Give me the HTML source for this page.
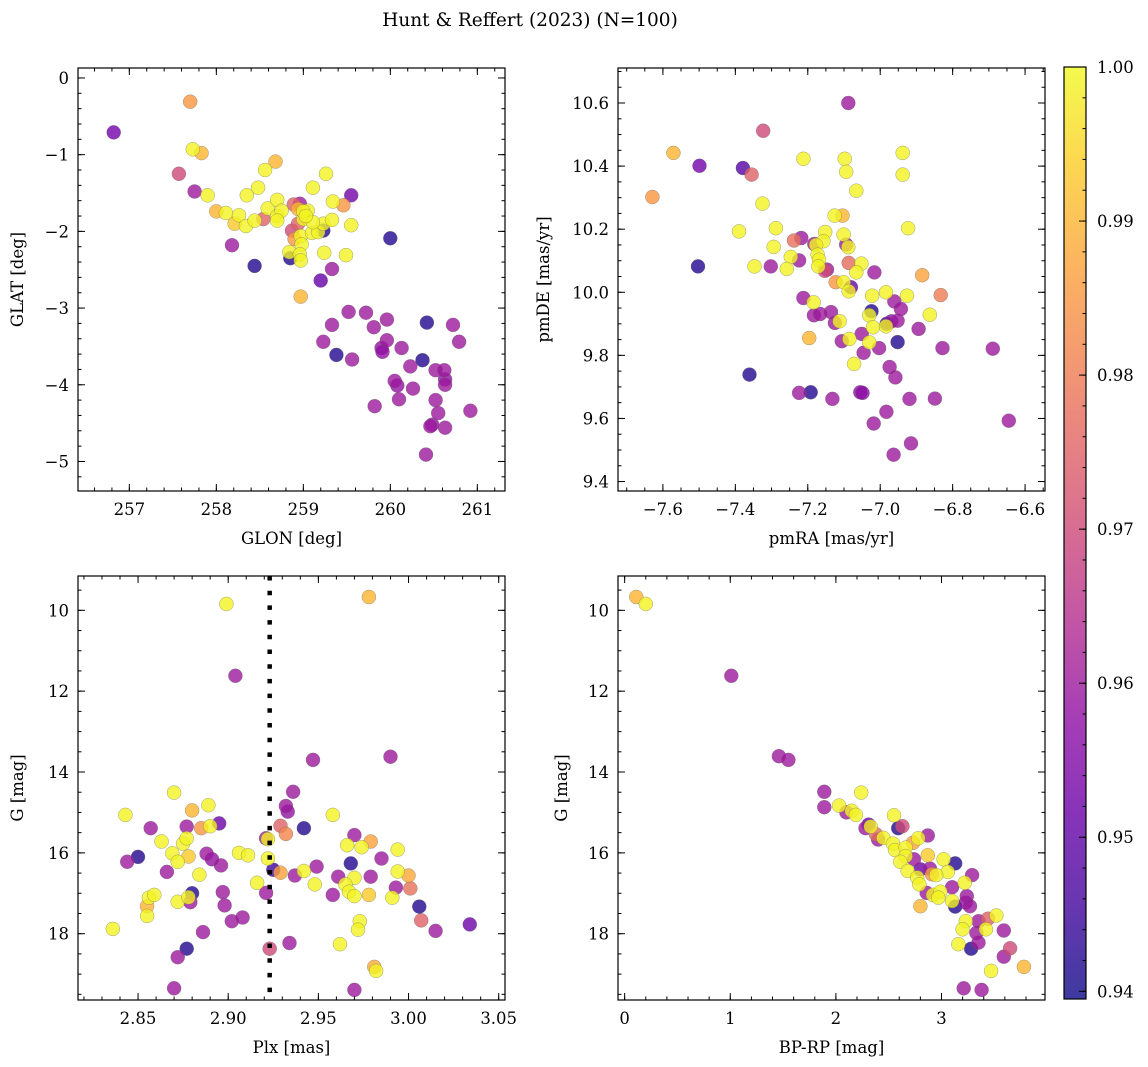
<!DOCTYPE html>
<html><head><meta charset="utf-8">
<style>
html,body{margin:0;padding:0;background:#fff;}
svg{display:block;font-family:"DejaVu Serif","Liberation Serif",serif;}
</style></head>
<body>
<svg id="fig" width="1148" height="1067" viewBox="0 0 1148 1067" xmlns="http://www.w3.org/2000/svg">
<text x="530" y="26" text-anchor="middle" font-size="18.5">Hunt &amp; Reffert (2023) (N=100)</text>
<g id="layer"></g>
</svg>
<script>
// ---- Top-left: GLON vs GLAT ----
const glon=[256.82,257.70,257.73,257.83,257.57,257.75,257.90,258.0,258.11,258.26,258.21,258.34,258.44,258.54,258.18,258.44,258.35,258.48,258.56,258.68,258.59,258.70,258.70,258.75,258.70,258.89,258.96,258.94,259.05,259.0,258.87,258.94,258.90,258.97,258.98,258.84,258.85,258.96,258.97,259.10,259.17,259.23,259.23,259.11,259.11,259.26,259.34,259.46,259.55,259.33,259.55,259.24,259.49,259.33,259.20,258.97,260.0,259.0,259.03,259.52,259.72,259.96,259.33,259.81,260.42,260.72,259.23,259.96,259.90,259.91,260.13,260.79,259.38,259.56,260.37,260.23,260.52,260.62,260.63,260.63,260.05,260.08,260.26,260.10,260.52,259.82,260.92,260.55,260.48,260.46,260.63,260.41];
const glat=[-0.71,-0.31,-0.93,-0.98,-1.25,-1.48,-1.53,-1.74,-1.76,-1.79,-1.90,-1.93,-1.86,-1.84,-2.18,-2.45,-1.53,-1.43,-1.20,-1.09,-1.70,-1.59,-1.80,-1.73,-1.86,-1.65,-1.64,-1.71,-1.73,-1.84,-1.99,-1.90,-2.10,-2.06,-2.17,-2.27,-2.35,-2.30,-2.38,-2.02,-2.01,-1.99,-1.90,-1.88,-1.43,-1.25,-1.61,-1.66,-1.53,-1.85,-1.92,-2.28,-2.31,-2.49,-2.64,-2.85,-2.09,-1.74,-1.80,-3.05,-3.06,-3.15,-3.22,-3.25,-3.19,-3.22,-3.44,-3.42,-3.52,-3.57,-3.52,-3.44,-3.61,-3.67,-3.68,-3.76,-3.81,-3.81,-3.93,-4.0,-3.95,-4.01,-4.05,-4.19,-4.20,-4.28,-4.34,-4.37,-4.52,-4.54,-4.56,-4.91];
const probTL=[0.953,0.985,0.999,0.99,0.97,0.96,0.999,0.99,0.999,0.999,0.993,0.999,0.999,0.975,0.96,0.942,0.999,0.999,0.999,0.99,0.999,0.999,0.999,0.999,0.999,0.975,0.96,0.99,0.999,0.999,0.97,0.975,0.985,0.999,0.999,0.999,0.942,0.999,0.999,0.999,0.999,0.942,0.999,0.999,0.999,0.999,0.999,0.985,0.953,0.999,0.999,0.999,0.999,0.96,0.951,0.99,0.942,0.999,0.999,0.96,0.96,0.96,0.96,0.96,0.942,0.96,0.96,0.96,0.958,0.958,0.96,0.96,0.942,0.96,0.942,0.96,0.96,0.96,0.958,0.96,0.96,0.958,0.96,0.96,0.96,0.96,0.96,0.96,0.958,0.96,0.96,0.96];
// ---- Top-right: pmRA vs pmDE ----
const pmra=[-7.088,-7.323,-7.571,-7.499,-7.379,-7.355,-7.629,-7.212,-7.098,-7.094,-6.938,-6.938,-7.066,-7.325,-7.126,-7.104,-7.39,-7.288,-6.923,-7.238,-7.218,-7.152,-7.157,-7.182,-7.177,-7.101,-7.094,-7.088,-7.294,-7.247,-7.224,-7.173,-7.169,-7.503,-7.347,-7.302,-7.258,-7.171,-7.147,-7.153,-7.087,-7.052,-7.066,-7.016,-7.123,-7.101,-7.081,-7.087,-7.022,-6.984,-6.926,-6.884,-6.833,-7.212,-7.184,-7.183,-7.166,-7.136,-7.125,-7.112,-6.961,-6.943,-7.024,-7.030,-6.863,-6.982,-6.969,-6.952,-7.020,-6.984,-6.894,-7.196,-7.106,-7.085,-7.051,-7.030,-7.003,-6.952,-7.046,-6.828,-6.689,-7.072,-7.361,-6.974,-6.958,-7.224,-7.192,-7.132,-7.055,-7.049,-6.919,-6.849,-6.983,-7.018,-6.645,-6.915,-6.963];
const pmde=[10.60,10.512,10.442,10.401,10.394,10.373,10.302,10.423,10.423,10.382,10.442,10.373,10.322,10.281,10.243,10.243,10.193,10.203,10.203,10.164,10.172,10.191,10.162,10.153,10.150,10.183,10.151,10.143,10.144,10.112,10.101,10.119,10.103,10.082,10.082,10.082,10.074,10.082,10.072,10.068,10.093,10.091,10.063,10.063,10.032,10.032,10.016,10.003,9.989,10.0,9.989,10.054,9.991,9.982,9.968,9.927,9.931,9.937,9.903,9.908,9.971,9.947,9.940,9.927,9.929,9.900,9.908,9.910,9.889,9.892,9.884,9.855,9.845,9.852,9.868,9.841,9.823,9.842,9.808,9.823,9.821,9.773,9.739,9.763,9.730,9.681,9.683,9.662,9.683,9.681,9.662,9.663,9.621,9.584,9.593,9.521,9.485];
const probTR=[0.96,0.97,0.99,0.953,0.948,0.975,0.985,0.999,0.999,0.999,0.999,0.999,0.999,0.999,0.999,0.99,0.999,0.999,0.999,0.978,0.96,0.999,0.999,0.96,0.999,0.999,0.96,0.999,0.999,0.999,0.96,0.999,0.999,0.942,0.999,0.96,0.999,0.999,0.96,0.97,0.977,0.999,0.999,0.96,0.985,0.999,0.952,0.999,0.999,0.999,0.999,0.987,0.98,0.96,0.999,0.96,0.96,0.96,0.96,0.999,0.96,0.96,0.942,0.999,0.999,0.945,0.957,0.96,0.999,0.999,0.96,0.99,0.96,0.999,0.96,0.999,0.96,0.942,0.96,0.96,0.96,0.999,0.942,0.96,0.96,0.96,0.942,0.96,0.957,0.957,0.96,0.96,0.96,0.96,0.96,0.96,0.96];
// ---- Bottom-left: Plx vs G ----
const plx=[2.899,2.978,2.904,2.947,2.990,2.870,2.936,2.843,2.880,2.889,2.958,2.932,2.933,2.857,2.877,2.885,2.890,2.895,2.929,2.932,2.942,2.863,2.875,2.877,2.921,2.922,2.970,2.966,2.974,2.979,2.994,2.869,2.878,2.872,2.888,2.891,2.906,2.911,2.922,2.844,2.850,2.896,2.866,2.884,2.925,2.929,2.937,2.942,2.949,2.968,2.985,2.994,3.000,2.961,2.970,2.979,2.916,2.948,2.965,2.993,3.001,2.921,2.897,2.958,2.967,2.970,2.978,2.991,3.006,2.856,2.859,2.855,2.880,2.879,2.872,2.878,2.898,2.855,2.902,2.908,3.007,2.836,2.886,2.973,2.972,3.015,3.034,2.877,2.872,2.923,2.934,2.962,2.981,2.982,2.870,2.970];
const gBL=[9.84,9.67,11.62,13.70,13.62,14.51,14.49,15.06,14.95,14.82,15.06,14.84,14.98,15.39,15.35,15.39,15.34,15.27,15.33,15.53,15.39,15.72,15.77,15.64,15.64,15.66,15.56,15.81,15.86,15.72,15.92,16.01,16.09,16.22,16.02,16.16,16.0,16.06,16.14,16.22,16.10,16.31,16.47,16.54,16.42,16.49,16.56,16.45,16.34,16.26,16.14,16.46,16.56,16.59,16.62,16.59,16.74,16.78,16.78,16.86,16.88,16.99,16.97,17.04,16.96,17.07,17.04,17.11,17.33,17.11,17.04,17.32,17.00,17.22,17.21,17.10,17.30,17.56,17.69,17.60,17.67,17.88,17.96,17.69,17.90,17.93,17.77,18.37,18.58,18.37,18.23,18.26,18.82,18.92,19.35,19.39];
const probBL=[0.999,0.99,0.96,0.96,0.96,0.999,0.96,0.999,0.99,0.999,0.999,0.96,0.958,0.96,0.96,0.985,0.999,0.952,0.975,0.982,0.942,0.999,0.999,0.999,0.96,0.999,0.96,0.999,0.999,0.987,0.999,0.999,0.993,0.999,0.96,0.958,0.999,0.999,0.999,0.96,0.942,0.96,0.96,0.999,0.945,0.987,0.96,0.999,0.96,0.942,0.96,0.999,0.988,0.96,0.999,0.96,0.999,0.999,0.999,0.96,0.978,0.96,0.96,0.96,0.999,0.999,0.993,0.999,0.942,0.999,0.999,0.99,0.942,0.96,0.999,0.999,0.96,0.999,0.96,0.96,0.975,0.999,0.96,0.999,0.999,0.96,0.952,0.942,0.96,0.97,0.96,0.999,0.988,0.999,0.96,0.96];
// ---- Bottom-right: BP-RP vs G ----
const bprp=[0.11,0.20,1.01,1.46,1.55,1.89,1.89,2.24,2.03,2.15,2.10,2.19,2.55,2.31,2.28,2.33,2.59,2.63,2.38,2.40,2.45,2.54,2.56,2.66,2.73,2.78,2.87,2.66,2.61,2.74,2.87,3.02,3.13,2.68,2.80,2.89,3.06,2.91,2.95,2.77,2.79,3.29,3.10,3.22,2.86,2.92,2.99,2.97,3.10,3.24,3.23,3.27,3.13,2.80,3.23,3.20,3.35,3.44,3.52,3.42,3.33,3.35,3.59,3.16,3.28,3.65,3.59,3.47,3.78,3.21,3.38];
const gBR=[9.67,9.84,11.62,13.61,13.70,14.49,14.87,14.51,14.83,14.96,15.0,15.06,15.07,15.30,15.39,15.35,15.39,15.34,15.54,15.67,15.63,15.77,15.93,15.87,15.75,15.64,15.57,16.08,16.22,16.16,16.06,16.16,16.26,16.45,16.41,16.39,16.47,16.53,16.55,16.61,16.78,16.55,16.85,16.74,16.99,17.04,16.96,17.11,17.19,17.07,17.23,17.32,17.33,17.32,17.69,17.89,17.69,17.63,17.55,17.89,17.98,18.22,17.92,18.26,18.37,18.36,18.57,18.92,18.82,19.35,19.39];
const probBR=[0.99,0.999,0.96,0.96,0.96,0.96,0.96,0.999,0.999,0.999,0.96,0.999,0.999,0.952,0.96,0.999,0.942,0.97,0.977,0.96,0.999,0.999,0.999,0.999,0.987,0.999,0.96,0.999,0.999,0.96,0.993,0.999,0.942,0.999,0.952,0.96,0.999,0.985,0.999,0.999,0.999,0.96,0.96,0.999,0.96,0.999,0.999,0.999,0.999,0.96,0.958,0.96,0.942,0.99,0.999,0.999,0.96,0.975,0.999,0.999,0.96,0.96,0.96,0.999,0.942,0.97,0.96,0.999,0.99,0.96,0.96];
// ---- Colorbar / reference line ----
const cbTicks=[0.94,0.95,0.96,0.97,0.98,0.99,1.00];
const cbLabels=["0.94","0.95","0.96","0.97","0.98","0.99","1.00"];
const plxMean=[2.923];
const VMIN=0.9395, VMAX=1.0;

const NS="http://www.w3.org/2000/svg";
const FS=16.5;
const layer=document.getElementById('layer');
function mk(tag,attrs,parent){const e=document.createElementNS(NS,tag);for(const k in attrs)e.setAttribute(k,attrs[k]);(parent||layer).appendChild(e);return e;}
const plasma=[[13,8,135],[65,4,157],[106,0,168],[143,13,164],[177,42,144],[204,71,120],[225,100,98],[242,132,75],[252,166,54],[252,206,37],[240,249,33]];
function cmap(t){t=Math.max(0,Math.min(1,t));const f=t*10,i=Math.min(9,Math.floor(f)),r=f-i;const a=plasma[i],b=plasma[i+1];return 'rgb('+a.map((v,k)=>Math.round(v+(b[k]-v)*r)).join(',')+')';}

function fmt(v,d){let s=v.toFixed(d);if(v<-1e-9)s='\u2212'+s.slice(1);if(s==='\u22120'||s==='-0')s='0';return s;}

function panel(cfg){
  const g=mk('g',{});
  
  
  const {L,R,T,B}=cfg;
  const sx=v=>L+(v-cfg.xmin)/(cfg.xmax-cfg.xmin)*(R-L);
  const sy=cfg.invert? v=>T+(v-cfg.ymin)/(cfg.ymax-cfg.ymin)*(B-T) : v=>B-(v-cfg.ymin)/(cfg.ymax-cfg.ymin)*(B-T);
  const idx=cfg.xs.map((_,i)=>i).sort((a,b)=>cfg.ps[a]-cfg.ps[b]);
  const pg=mk('g',{},g);
  
  
  const clip=mk('clipPath',{id:'clip-'+cfg.name},g);
  mk('rect',{x:L,y:T,width:R-L,height:B-T},clip);
  pg.setAttribute('clip-path','url(#clip-'+cfg.name+')');
  idx.forEach(i=>{
    const c=mk('circle',{cx:sx(cfg.xs[i]).toFixed(1),cy:sy(cfg.ys[i]).toFixed(1),r:7,fill:cmap((cfg.ps[i]-VMIN)/(VMAX-VMIN)),'fill-opacity':0.8,stroke:'#666','stroke-opacity':0.6,'stroke-width':0.5},pg);
    
    
  });
  if(cfg.vline){
    cfg.vline.forEach(v=>{
      const l=mk('line',{x1:sx(v),x2:sx(v),y1:T,y2:B,stroke:'#000','stroke-width':4.5,'stroke-dasharray':'4.5 10.2'},g);
      
      
    });
  }
  const tg=mk('g',{stroke:'#000','stroke-width':1},g);
  
  
  const eps=1e-9;
  function ticks(min,max,step){const a=[];for(let v=Math.ceil(min/step-eps)*step;v<=max+eps;v+=step)a.push(Math.round(v/step)*step);return a;}
  ticks(cfg.xmin,cfg.xmax,cfg.xminor).forEach(v=>{const x=sx(v);mk('line',{x1:x,x2:x,y1:B,y2:B-3.5},tg);mk('line',{x1:x,x2:x,y1:T,y2:T+3.5},tg);});
  ticks(cfg.ymin,cfg.ymax,cfg.yminor).forEach(v=>{const y=sy(v);mk('line',{x1:L,x2:L+3.5,y1:y,y2:y},tg);mk('line',{x1:R,x2:R-3.5,y1:y,y2:y},tg);});
  ticks(cfg.xmin,cfg.xmax,cfg.xmajor).forEach(v=>{const x=sx(v);mk('line',{x1:x,x2:x,y1:B,y2:B-7},tg);mk('line',{x1:x,x2:x,y1:T,y2:T+7},tg);
    const t=mk('text',{x:x,y:B+24,'text-anchor':'middle','font-size':FS},g);t.textContent=fmt(v,cfg.xd);
    
    });
  ticks(cfg.ymin,cfg.ymax,cfg.ymajor).forEach(v=>{const y=sy(v);mk('line',{x1:L,x2:L+7,y1:y,y2:y},tg);mk('line',{x1:R,x2:R-7,y1:y,y2:y},tg);
    const t=mk('text',{x:L-9,y:y+6,'text-anchor':'end','font-size':FS},g);t.textContent=fmt(v,cfg.yd);
    
    });
  const fr=mk('rect',{x:L,y:T,width:R-L,height:B-T,fill:'none',stroke:'#000','stroke-width':1.2},g);
  
  
  const xl=mk('text',{x:(L+R)/2,y:B+53,'text-anchor':'middle','font-size':FS},g);xl.textContent=cfg.xlabel;
  
  
  const yx=cfg.ylx, yy=(T+B)/2;
  const yl=mk('text',{x:yx,y:yy,'text-anchor':'middle','font-size':FS,transform:'rotate(-90 '+yx+' '+yy+')'},g);yl.textContent=cfg.ylabel;
  
  
}

panel({name:'glon-glat-panel',L:78,R:505,T:68,B:491,xmin:256.41,xmax:261.318,ymin:-5.385,ymax:0.13,xmajor:1,xminor:0.2,ymajor:1,yminor:0.2,xd:0,yd:0,xs:glon,ys:glat,ps:probTL,xlabel:'GLON [deg]',ylabel:'GLAT [deg]',ylx:23});
panel({name:'pm-panel',L:618,R:1045,T:68,B:491,xmin:-7.724,xmax:-6.545,ymin:9.370,ymax:10.711,xmajor:0.2,xminor:0.05,ymajor:0.2,yminor:0.05,xd:1,yd:1,xs:pmra,ys:pmde,ps:probTR,xlabel:'pmRA [mas/yr]',ylabel:'pmDE [mas/yr]',ylx:549});
panel({name:'plx-g-panel',L:78,R:505,T:576,B:1000,xmin:2.8167,xmax:3.0535,ymin:9.151,ymax:19.64,invert:true,xmajor:0.05,xminor:0.01,ymajor:2,yminor:0.5,xd:2,yd:0,xs:plx,ys:gBL,ps:probBL,vline:plxMean,xlabel:'Plx [mas]',ylabel:'G [mag]',ylx:23});
panel({name:'cmd-panel',L:618,R:1045,T:576,B:1000,xmin:-0.063,xmax:3.98,ymin:9.151,ymax:19.64,invert:true,xmajor:1,xminor:0.2,ymajor:2,yminor:0.5,xd:0,yd:0,xs:bprp,ys:gBR,ps:probBR,xlabel:'BP-RP [mag]',ylabel:'G [mag]',ylx:567});

(function(){
  const L=1064,R=1086,T=67,B=999;
  const g=mk('g',{});
  
  
  const defs=mk('defs',{},g);
  const lg=mk('linearGradient',{id:'cbgrad',x1:0,y1:1,x2:0,y2:0},defs);
  for(let i=0;i<=20;i++){mk('stop',{offset:(i/20),'stop-color':cmap(i/20)},lg);}
  mk('rect',{x:L,y:T,width:R-L,height:B-T,fill:'url(#cbgrad)','fill-opacity':0.8},g);
  const sy=v=>B-(v-VMIN)/(VMAX-VMIN)*(B-T);
  for(let k=0;k<=30;k++){const v=0.94+k*0.002;if(v>VMAX+1e-9)break;const y=sy(v);mk('line',{x1:R,x2:R-3.5,y1:y,y2:y,stroke:'#000','stroke-width':1},g);}
  cbTicks.forEach((v,i)=>{const y=sy(v);mk('line',{x1:R,x2:R-7,y1:y,y2:y,stroke:'#000','stroke-width':1},g);
    const t=mk('text',{x:R+11,y:y+6,'font-size':FS},g);t.textContent=cbLabels[i];
    
    });
  mk('rect',{x:L,y:T,width:R-L,height:B-T,fill:'none',stroke:'#000','stroke-width':1.2},g);
})();
</script>
</body></html>
